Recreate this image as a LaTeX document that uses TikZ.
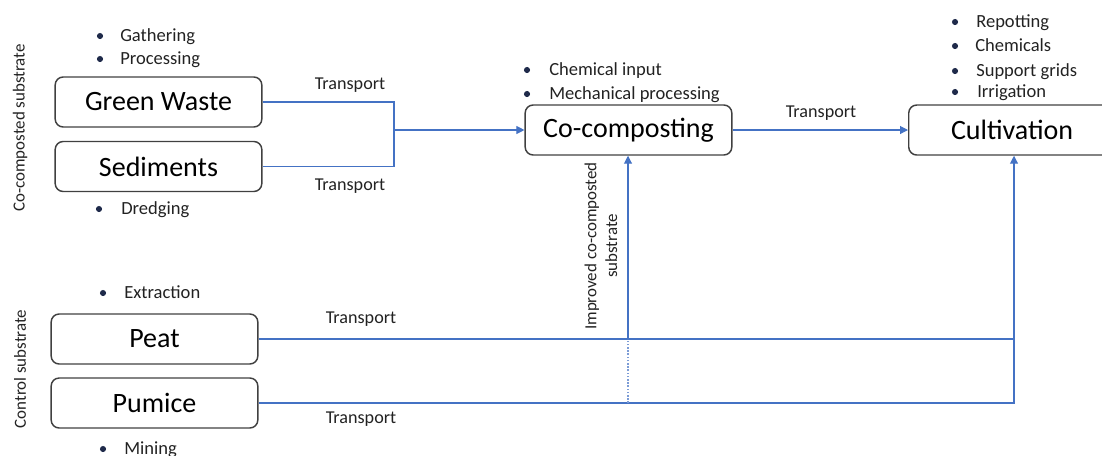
\documentclass[tikz,border=0pt]{standalone}
\usepackage{fontspec}
\setmainfont{Carlito}
\usetikzlibrary{arrows.meta}
\definecolor{lineblue}{HTML}{4472C4}
\definecolor{boxgray}{HTML}{404040}
\definecolor{dotnavy}{HTML}{1F2A4A}
\definecolor{txt}{HTML}{222222}
\tikzset{
  box/.style={draw=boxgray, line width=1.1pt, rounded corners=6pt, minimum width=155pt, minimum height=37.5pt, inner sep=0pt, font=\fontsize{21}{24}\selectfont, text=black},
  conn/.style={draw=lineblue, line width=0.8pt},
  arr/.style={conn, -{Triangle[length=6pt,width=6pt]}},
  bdot/.style={circle, fill=dotnavy, inner sep=0pt, minimum size=4.6pt},
  btext/.style={anchor=mid west, inner sep=0pt, font=\fontsize{13.9}{16}\selectfont, text=txt, yshift=-2pt},
  tlabel/.style={inner sep=0pt, font=\fontsize{13.6}{16}\selectfont, text=txt},
  sidelabel/.style={rotate=90, inner sep=0pt, font=\fontsize{12.7}{15.5}\selectfont, text=txt, align=center}
}
\begin{document}
\begin{tikzpicture}[x=0.75pt,y=-0.75pt]
\useasboundingbox (0,0) rectangle (1102,455);
\clip (0,0) rectangle (1102,455);
% boxes
\node[box] (gw) at (158.5,102) {Green Waste};
\node[box] (sed) at (158.5,166.5) {Sediments};
\node[box] (peat) at (154.5,339) {Peat};
\node[box] (pum) at (154.5,403) {Pumice};
\node[box] (cc) at (628.5,130) {Co-composting};
\node[box, anchor=west] (cult) at (908,130) {Cultivation};
% side labels
\node[sidelabel] (lab1) at (20,128) {Co-composted substrate};
\node[sidelabel] (lab2) at (20,369) {Control substrate};
\node[sidelabel] (lab3) at (601,246) {Improved co-composted\\substrate};
% bullets
\node[bdot] (d1) at (100,36) {}; \node[btext] (t1) at (120,36) {Gathering};
\node[bdot] (d2) at (100,59) {}; \node[btext] (t2) at (120,59) {Processing};
\node[bdot] (d3) at (99,209) {}; \node[btext] (t3) at (121,209) {Dredging};
\node[bdot] (d4) at (103,293) {}; \node[btext] (t4) at (124,293) {Extraction};
\node[bdot] (d5) at (103,449) {}; \node[btext] (t5) at (124,449) {Mining};
\node[bdot] (d6) at (527,70) {}; \node[btext] (t6) at (549,70) {Chemical input};
\node[bdot] (d7) at (527,94) {}; \node[btext] (t7) at (549,94) {Mechanical processing};
\node[bdot] (d8) at (955,22) {}; \node[btext] (t8) at (976,22) {Repotting};
\node[bdot] (d9) at (955,46) {}; \node[btext] (t9) at (975,46) {Chemicals};
\node[bdot] (d10) at (955,71) {}; \node[btext] (t10) at (976,71) {Support grids};
\node[bdot] (d11) at (955,92) {}; \node[btext] (t11) at (977,92) {Irrigation};
% transport labels
\node[tlabel] (tr1) at (350,85) {Transport};
\node[tlabel] (tr2) at (350,186) {Transport};
\node[tlabel] (tr3) at (821,113) {Transport};
\node[tlabel] (tr4) at (361,319) {Transport};
\node[tlabel] (tr5) at (361,419) {Transport};
% connectors
\coordinate (j) at (394,130);
\draw[conn] (gw.east) -| (j);
\draw[conn] (sed.east) -| (j);
\draw[arr] (j) -- (cc.west);
\draw[arr] (cc.east) -- (cult.west);
\coordinate (k) at (1014,339);
\draw[conn] (peat.east) -- (k);
\draw[conn] (pum.east) -| (k);
\draw[arr] (k) -- (k |- cult.south);
\coordinate (m1) at (628,339);
\coordinate (m0) at (628,403);
\draw[conn, dash pattern=on 1.2pt off 1.2pt, draw=lineblue!70] (m0) -- (m1);
\draw[arr] (m1) -- (m1 |- cc.south);
\end{tikzpicture}
\end{document}
